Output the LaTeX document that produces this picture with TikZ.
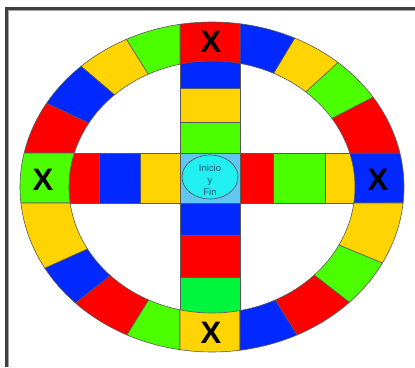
\documentclass[tikz,border=0pt]{standalone}
\usepackage{fontspec}
\setmainfont{Liberation Sans}
\usetikzlibrary{calc,shapes.geometric}
\definecolor{cred}{HTML}{FF0000}
\definecolor{cblue}{HTML}{0028FF}
\definecolor{cyel}{HTML}{FFD400}
\definecolor{clime}{HTML}{4CFF00}
\definecolor{cgreen}{HTML}{00F63C}
\definecolor{clblue}{HTML}{62C6F2}
\definecolor{ccyan}{HTML}{22F0F0}
\definecolor{ctext}{HTML}{1E5670}
\newcommand\ringcell[5]{%
  \filldraw[cellline,fill=#5] ($(c)+(#1:192pt and 165pt)$)
    arc[start angle=#1,end angle=#2,x radius=192pt,y radius=165pt]
    -- ($(c)+(#4:143pt and 126pt)$)
    arc[start angle=#4,end angle=#3,x radius=143pt,y radius=126pt] -- cycle;}
\begin{document}
\begin{tikzpicture}[x=1pt,y=1pt,
  cellline/.style={draw=black!65,line width=0.6pt},
  xmark/.style={font=\fontsize{31}{31}\selectfont\bfseries,inner sep=0pt,text=black},
  armcell/.style={cellline}]
\useasboundingbox (0,0) rectangle (415,367);
\fill[white] (0,0) rectangle (415,367);
\coordinate (c) at (212,180);
% vertical arm
\filldraw[armcell,fill=cblue] (180,279) rectangle (240,309);
\filldraw[armcell,fill=cyel] (180,245) rectangle (240,279);
\filldraw[armcell,fill=clime] (180,214) rectangle (240,245);
\filldraw[armcell,fill=cblue] (180,132) rectangle (240,165);
\filldraw[armcell,fill=cred] (180,90) rectangle (240,132);
\filldraw[armcell,fill=cgreen] (180,50) rectangle (240,90);
% horizontal arm
\filldraw[armcell,fill=cred] (64,164) rectangle (99,214);
\filldraw[armcell,fill=cblue] (99,164) rectangle (140,214);
\filldraw[armcell,fill=cyel] (140,164) rectangle (180,214);
\filldraw[armcell,fill=cred] (240,164) rectangle (273,214);
\filldraw[armcell,fill=clime] (273,164) rectangle (325,214);
\filldraw[armcell,fill=cyel] (325,164) rectangle (360,214);
% centre
\node[armcell,fill=clblue,minimum width=60pt,minimum height=50pt,inner sep=0pt] (ctr) at (210,189) {};
\node[draw=black!70,line width=0.6pt,fill=ccyan,ellipse,minimum width=56pt,minimum height=44pt,inner sep=0pt] (start) at (210,190) {};
\node[align=center,text=ctext,font=\fontsize{9.5}{12}\selectfont,inner sep=0pt] (lbl) at (210,187) {Inicio\\y\\Fin};
% ring
\ringcell{-5.565}{11.89}{-7.30}{15.65}{cblue}
\ringcell{11.89}{33}{15.65}{33}{cred}
\ringcell{33}{49}{33}{49}{clime}
\ringcell{49}{64.5}{49}{64.5}{cyel}
\ringcell{64.5}{81.61}{64.5}{78.71}{cblue}
\ringcell{81.61}{99.59}{78.71}{102.93}{cred}
\ringcell{99.59}{116.5}{102.93}{116.5}{clime}
\ringcell{116.5}{133}{116.5}{133}{cyel}
\ringcell{133}{149.5}{133}{149.5}{cblue}
\ringcell{149.5}{168.11}{149.5}{164.35}{cred}
\ringcell{168.11}{185.56}{164.35}{187.30}{clime}
\ringcell{185.56}{209.5}{187.30}{209.5}{cyel}
\ringcell{209.5}{224.7}{209.5}{224.7}{cblue}
\ringcell{224.7}{243.7}{224.7}{243.7}{cred}
\ringcell{243.7}{260.41}{243.7}{257.07}{clime}
\ringcell{260.41}{278.39}{257.07}{281.29}{cyel}
\ringcell{278.39}{296.3}{281.29}{296.3}{cblue}
\ringcell{296.3}{315.7}{296.3}{315.7}{cred}
\ringcell{315.7}{332.6}{315.7}{332.6}{clime}
\ringcell{332.6}{354.435}{332.6}{352.70}{cyel}
% X marks
\node[xmark] (xtop) at (211,325) {X};
\node[xmark] (xleft) at (43,187) {X};
\node[xmark] (xright) at (378,187) {X};
\node[xmark] (xbot) at (211,34) {X};
% frame
\draw[line width=3pt,black!75] (5,358.5) -- (415,358.5);
\draw[line width=3pt,black!75] (6.5,360) -- (6.5,0);
\draw[line width=1pt,black!35] (8.5,356.5) -- (415,356.5);
\draw[line width=1pt,black!35] (8.5,356.5) -- (8.5,0);
\end{tikzpicture}
\end{document}
